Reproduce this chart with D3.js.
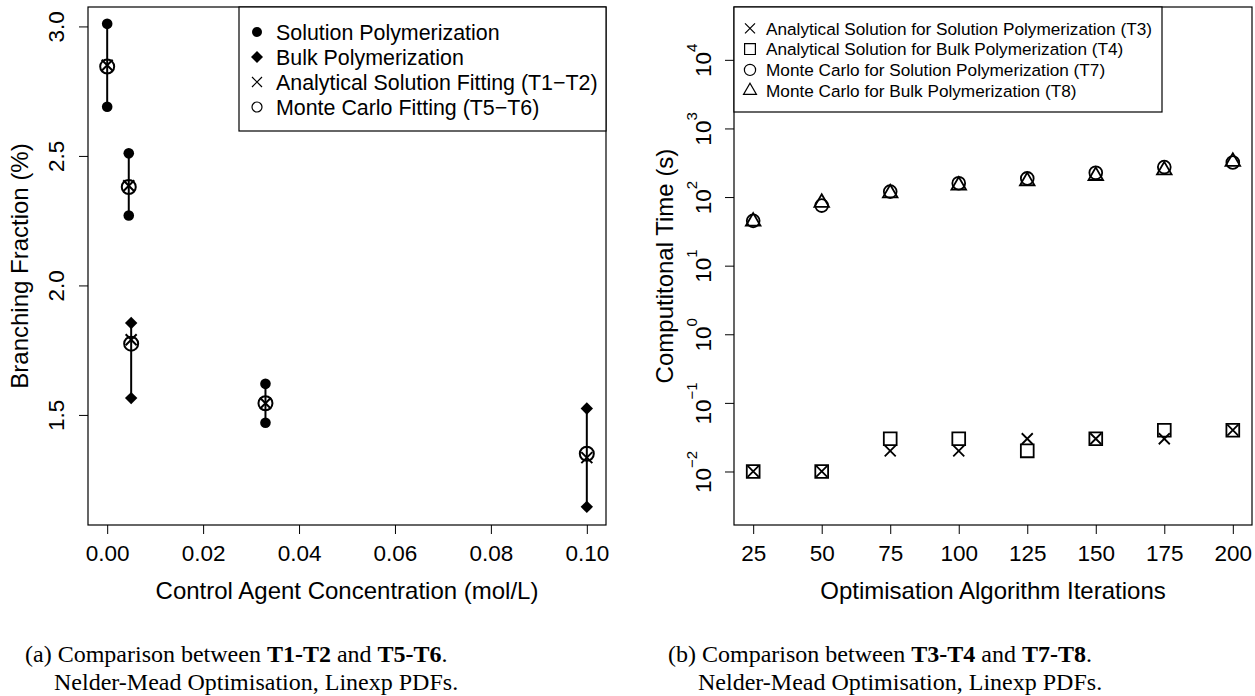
<!DOCTYPE html>
<html>
<head>
<meta charset="utf-8">
<script src="https://cdn.jsdelivr.net/npm/d3@7"></script>
<style>
  body { margin: 0; background: #fff; }
  svg { display: block; }
</style>
</head>
<body>
<svg id="chart" width="1255" height="696"></svg>
<script>
// (a) branching fraction against control agent concentration
var concSolution = [0, 0.0045, 0.033];
var solutionHigh = [3.01, 2.51, 1.62];
var solutionLow = [2.69, 2.27, 1.47];
var concBulk = [0.005, 0.1];
var bulkHigh = [1.855, 1.525];
var bulkLow = [1.565, 1.145];
var concFit = [0, 0.0045, 0.005, 0.033, 0.1];
var analyticalFit = [2.85, 2.385, 1.79, 1.545, 1.335];
var monteCarloFit = [2.845, 2.38, 1.775, 1.545, 1.35];
var concTicks = [0, 0.02, 0.04, 0.06, 0.08, 0.1];
var fractionTicks = [1.5, 2.0, 2.5, 3.0];
var legendA = ["Solution Polymerization", "Bulk Polymerization",
               "Analytical Solution Fitting (T1\u2212T2)", "Monte Carlo Fitting (T5\u2212T6)"];

// (b) computational time against optimisation iterations
var iterations = [25, 50, 75, 100, 125, 150, 175, 200];
var timeT3 = [0.01, 0.01, 0.02, 0.02, 0.03, 0.03, 0.03, 0.04];
var timeT4 = [0.01, 0.01, 0.03, 0.03, 0.02, 0.03, 0.04, 0.04];
var timeT7 = [45, 75, 120, 159, 187, 226, 273, 319];
var timeT8 = [44, 83, 114, 148, 171, 204, 246, 328];
var timeExponents = [-2, -1, 0, 1, 2, 3, 4];
var legendB = ["Analytical Solution for Solution Polymerization (T3)",
               "Analytical Solution for Bulk Polymerization (T4)",
               "Monte Carlo for Solution Polymerization (T7)",
               "Monte Carlo for Bulk Polymerization (T8)"];

var font = "'Liberation Sans', Arial, Helvetica, sans-serif";
var serif = "'Liberation Serif', 'Times New Roman', serif";
var svg = d3.select("#chart");

// R style plotting symbols
function symbolPath(type, s) {
    var p = d3.path();
    if (type == "circle") {
        p.moveTo(s, 0);
        p.arc(0, 0, s, 0, 2 * Math.PI);
    }
    else if (type == "diamond") {
        p.moveTo(0, -s); p.lineTo(s, 0); p.lineTo(0, s); p.lineTo(-s, 0); p.closePath();
    }
    else if (type == "cross") {
        p.moveTo(-s, -s); p.lineTo(s, s); p.moveTo(-s, s); p.lineTo(s, -s);
    }
    else if (type == "square") {
        p.rect(-s, -s, 2 * s, 2 * s);
    }
    else if (type == "triangle") {
        p.moveTo(0, -1.555 * s); p.lineTo(1.3468 * s, 0.7776 * s); p.lineTo(-1.3468 * s, 0.7776 * s); p.closePath();
    }
    return p.toString();
}

function drawPoints(g, xs, ys, x, y, type, size, filled, lw) {
    g.selectAll(null)
      .data(xs)
      .enter().append("path")
      .attr("transform", (d, i) => "translate(" + x(d) + "," + y(ys[i]) + ")")
      .attr("d", symbolPath(type, size))
      .attr("fill", filled ? "#000" : "none")
      .attr("stroke", "#000")
      .attr("stroke-width", filled ? 0 : lw);
}

function styleAxis(g) {
    g.attr("font-size", 22.5).attr("font-family", font);
    g.select(".domain").remove();
    g.selectAll(".tick line").attr("stroke", "#000");
    g.selectAll(".tick text").attr("fill", "#000");
}

// ---------- panel (a) ----------
var xA = d3.scaleLinear().domain([-0.004, 0.104]).range([88, 606]);
var yA = d3.scaleLinear().domain([1.075, 3.075]).range([525, 7]);

var gA = svg.append("g");

gA.append("g")
  .attr("transform", "translate(0,525)")
  .call(d3.axisBottom(xA).tickValues(concTicks).tickFormat(d3.format(".2f")).tickSize(9).tickPadding(11))
  .call(styleAxis);

gA.append("g")
  .attr("transform", "translate(88,0)")
  .call(d3.axisLeft(yA).tickValues(fractionTicks).tickFormat(d3.format(".1f")).tickSize(9))
  .call(styleAxis)
  .selectAll(".tick text")
  .attr("x", 0).attr("dy", 0)
  .attr("text-anchor", "middle")
  .attr("transform", "translate(-24.5,0) rotate(-90)");

gA.append("rect")
  .attr("x", 88).attr("y", 7).attr("width", 518).attr("height", 518)
  .attr("fill", "none").attr("stroke", "#000").attr("stroke-width", 1.2);

// vertical bars joining the two measurements
gA.selectAll(".solbar")
  .data(concSolution)
  .enter().append("line")
  .attr("x1", d => xA(d)).attr("x2", d => xA(d))
  .attr("y1", (d, i) => yA(solutionHigh[i])).attr("y2", (d, i) => yA(solutionLow[i]))
  .attr("stroke", "#000").attr("stroke-width", 2);

gA.selectAll(".bulkbar")
  .data(concBulk)
  .enter().append("line")
  .attr("x1", d => xA(d)).attr("x2", d => xA(d))
  .attr("y1", (d, i) => yA(bulkHigh[i])).attr("y2", (d, i) => yA(bulkLow[i]))
  .attr("stroke", "#000").attr("stroke-width", 2);

drawPoints(gA, concSolution, solutionHigh, xA, yA, "circle", 5.3, true);
drawPoints(gA, concSolution, solutionLow, xA, yA, "circle", 5.3, true);
drawPoints(gA, concBulk, bulkHigh, xA, yA, "diamond", 6.2, true);
drawPoints(gA, concBulk, bulkLow, xA, yA, "diamond", 6.2, true);
drawPoints(gA, concFit, analyticalFit, xA, yA, "cross", 5.5, false, 2);
drawPoints(gA, concFit, monteCarloFit, xA, yA, "circle", 7, false, 2);

// legend
gA.append("rect")
  .attr("x", 239).attr("y", 7).attr("width", 367).attr("height", 124)
  .attr("fill", "#fff").attr("stroke", "#000").attr("stroke-width", 1.2);

var legA = gA.selectAll(".legA")
  .data(legendA)
  .enter().append("g")
  .attr("transform", (d, i) => "translate(257," + (32 + i * 25) + ")");

legA.append("path")
  .attr("d", (d, i) => symbolPath(["circle", "diamond", "cross", "circle"][i], [5, 6, 5, 5][i]))
  .attr("fill", (d, i) => i < 2 ? "#000" : "none")
  .attr("stroke", "#000")
  .attr("stroke-width", (d, i) => i < 2 ? 0 : 1.2);

legA.append("text")
  .attr("x", 19).attr("dy", "0.36em")
  .attr("font-family", font).attr("font-size", 21.4)
  .text(d => d);

gA.append("text")
  .attr("transform", "translate(28,266) rotate(-90)")
  .attr("text-anchor", "middle")
  .attr("font-family", font).attr("font-size", 24)
  .text("Branching Fraction (%)");

gA.append("text")
  .attr("x", 347).attr("y", 599)
  .attr("text-anchor", "middle")
  .attr("font-family", font).attr("font-size", 24)
  .text("Control Agent Concentration (mol/L)");

// ---------- panel (b) ----------
var xB = d3.scaleLinear().domain([18, 207]).range([734, 1252]);
var yB = d3.scaleLog().domain([Math.pow(10, -2.78), Math.pow(10, 4.77)]).range([525, 7]);

var gB = svg.append("g");

gB.append("g")
  .attr("transform", "translate(0,525)")
  .call(d3.axisBottom(xB).tickValues(iterations).tickFormat(d3.format("d")).tickSize(9).tickPadding(11))
  .call(styleAxis);

var yAxisB = gB.append("g")
  .attr("transform", "translate(734,0)")
  .call(d3.axisLeft(yB).tickValues(timeExponents.map(e => Math.pow(10, e))).tickFormat("").tickSize(9))
  .call(styleAxis);

yAxisB.selectAll(".tick text").remove();
var powLabel = yAxisB.selectAll(".tick")
  .data(timeExponents)
  .append("text")
  .attr("fill", "#000")
  .attr("text-anchor", "middle")
  .attr("transform", "translate(-23,0) rotate(-90)");
powLabel.append("tspan").text("10");
powLabel.append("tspan")
  .attr("dy", -14).attr("font-size", 15)
  .text(d => d < 0 ? "\u2212" + (-d) : d);

gB.append("rect")
  .attr("x", 734).attr("y", 7).attr("width", 518).attr("height", 518)
  .attr("fill", "none").attr("stroke", "#000").attr("stroke-width", 1.2);

drawPoints(gB, iterations, timeT3, xB, yB, "cross", 5.5, false, 1.8);
drawPoints(gB, iterations, timeT4, xB, yB, "square", 6.4, false, 1.8);
drawPoints(gB, iterations, timeT7, xB, yB, "circle", 6.4, false, 1.8);
drawPoints(gB, iterations, timeT8, xB, yB, "triangle", 5.4, false, 1.8);

gB.append("rect")
  .attr("x", 734).attr("y", 7).attr("width", 428).attr("height", 105)
  .attr("fill", "#fff").attr("stroke", "#000").attr("stroke-width", 1.2);

var legB = gB.selectAll(".legB")
  .data(legendB)
  .enter().append("g")
  .attr("transform", (d, i) => "translate(750," + (28.3 + i * 20.8) + ")");

legB.append("path")
  .attr("d", (d, i) => symbolPath(["cross", "square", "circle", "triangle"][i], [5, 5.4, 5.6, 4.8][i]))
  .attr("fill", "none")
  .attr("stroke", "#000")
  .attr("stroke-width", 1.2);

legB.append("text")
  .attr("x", 16).attr("dy", "0.36em")
  .attr("font-family", font).attr("font-size", 17.2)
  .text(d => d);

gB.append("text")
  .attr("transform", "translate(673,266) rotate(-90)")
  .attr("text-anchor", "middle")
  .attr("font-family", font).attr("font-size", 24)
  .text("Computitonal Time (s)");

gB.append("text")
  .attr("x", 993).attr("y", 599)
  .attr("text-anchor", "middle")
  .attr("font-family", font).attr("font-size", 24)
  .text("Optimisation Algorithm Iterations");

// ---------- captions ----------
function caption(x1, x2, tag, first, second) {
    var t = svg.append("text")
      .attr("x", x1).attr("y", 662)
      .attr("font-family", serif).attr("font-size", 24);
    t.append("tspan").text(tag + " Comparison between ");
    t.append("tspan").attr("font-weight", "bold").text(first);
    t.append("tspan").text(" and ");
    t.append("tspan").attr("font-weight", "bold").text(second);
    t.append("tspan").text(".");

    svg.append("text")
      .attr("x", x2).attr("y", 690)
      .attr("font-family", serif).attr("font-size", 24)
      .text("Nelder-Mead Optimisation, Linexp PDFs.");
}

caption(25, 54, "(a)", "T1-T2", "T5-T6");
caption(668, 698, "(b)", "T3-T4", "T7-T8");
</script>
</body>
</html>
